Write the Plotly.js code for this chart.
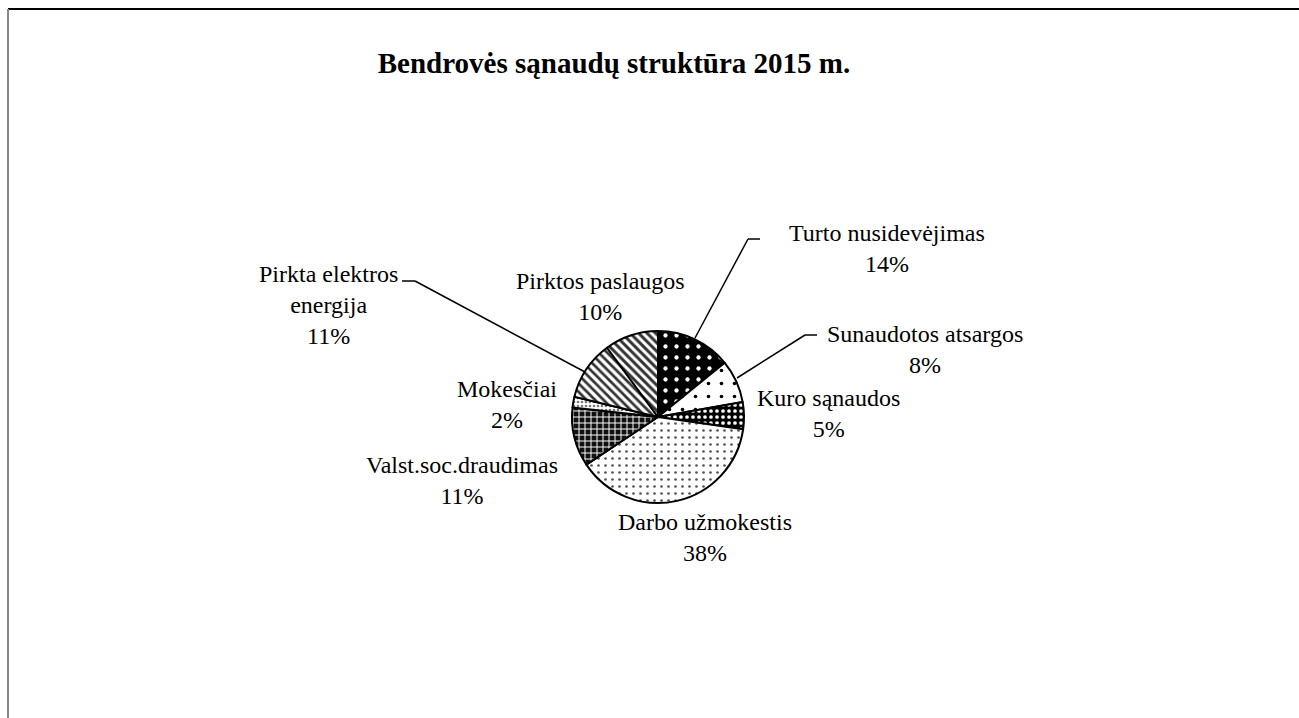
<!DOCTYPE html>
<html>
<head>
<meta charset="utf-8">
<script src="https://cdn.plot.ly/plotly-3.0.1.min.js"></script>
<style>html,body{margin:0;padding:0;background:#fff;}#chart{width:1299px;height:718px;}</style>
</head>
<body>
<div id="chart"></div>
<script>
const categories = ["Turto nusidevėjimas", "Sunaudotos atsargos", "Kuro sąnaudos", "Darbo užmokestis", "Valst.soc.draudimas", "Mokesčiai", "Pirkta elektros energija", "Pirktos paslaugos"];
const labelLines = ["Turto nusidevėjimas", "Sunaudotos atsargos", "Kuro sąnaudos", "Darbo užmokestis", "Valst.soc.draudimas", "Mokesčiai", "Pirkta elektros<br>energija", "Pirktos paslaugos"];
const values = [14, 8, 5, 38, 11, 2, 11, 10];

const W = 1299, H = 718;
const px = x => x / W;
const py = y => 1 - y / H;

const total = values.reduce((a, b) => a + b, 0);
const pct = values.map(v => Math.round(v / total * 100) + '%');

// pie geometry (pixels)
const cx = 658, cy = 417, R = 86;

// label centres (pixels)
const labelPos = [
  [887, 248], [925, 349], [828, 413], [705, 537],
  [462, 480], [507, 404], [328, 305], [600, 296]
];

const font = {family: '"Liberation Serif", "Times New Roman", serif', size: 24, color: '#000'};

const annotations = categories.map((c, i) => ({
  xref: 'paper', yref: 'paper',
  x: px(labelPos[i][0]), y: py(labelPos[i][1]),
  xanchor: 'center', yanchor: 'middle',
  text: labelLines[i] + '<br>' + pct[i],
  showarrow: false, align: 'center', font: font
}));

const seg = (x0, y0, x1, y1, c, w) => ({
  type: 'line', xref: 'paper', yref: 'paper',
  x0: px(x0), y0: py(y0), x1: px(x1), y1: py(y1),
  line: {color: c || '#000', width: w || 1.5}
});

const shapes = [
  // frame
  seg(8, 9, 1299, 9, '#000', 2),
  seg(8, 9, 8, 718, '#888', 2),
  // leader lines
  seg(760, 239, 748, 239), seg(748, 239, 695, 338),
  seg(817, 335, 805, 335), seg(805, 335, 737, 378),
  seg(402, 281, 415, 281), seg(415, 281, 585, 372)
];

const trace = {
  type: 'pie',
  labels: categories,
  values: values,
  sort: false,
  direction: 'clockwise',
  rotation: 0,
  textinfo: 'none',
  hoverinfo: 'label+percent',
  domain: {x: [px(cx - R), px(cx + R)], y: [py(cy + R), py(cy - R)]},
  marker: {
    colors: ['#000', '#fff', '#000', '#fff', '#111', '#fff', '#fff', '#fff'],
    line: {color: '#000', width: 2},
    pattern: {
      shape: ['.', '.', '.', '.', '+', '.', '\\', '\\'],
      bgcolor: ['#000', '#fff', '#000', '#fff', '#111', '#fff', '#fff', '#fff'],
      fgcolor: ['#fff', '#000', '#fff', '#555', '#fff', '#777', '#333', '#333'],
      size: [11, 13, 6, 7, 6, 4, 6, 6],
      solidity: [0.12, 0.06, 0.3, 0.12, 0.3, 0.35, 0.45, 0.5]
    }
  }
};

const layout = {
  width: W, height: H,
  margin: {l: 0, r: 0, t: 0, b: 0},
  paper_bgcolor: '#fff',
  showlegend: false,
  title: {
    text: '<b>Bendrovės sąnaudų struktūra 2015 m.</b>',
    x: px(614), xanchor: 'center', y: py(63), yanchor: 'middle',
    font: {family: '"Liberation Serif", "Times New Roman", serif', size: 29, color: '#000'}
  },
  annotations: annotations,
  shapes: shapes
};

Plotly.newPlot('chart', [trace], layout, {displayModeBar: false, staticPlot: true});
</script>
</body>
</html>
